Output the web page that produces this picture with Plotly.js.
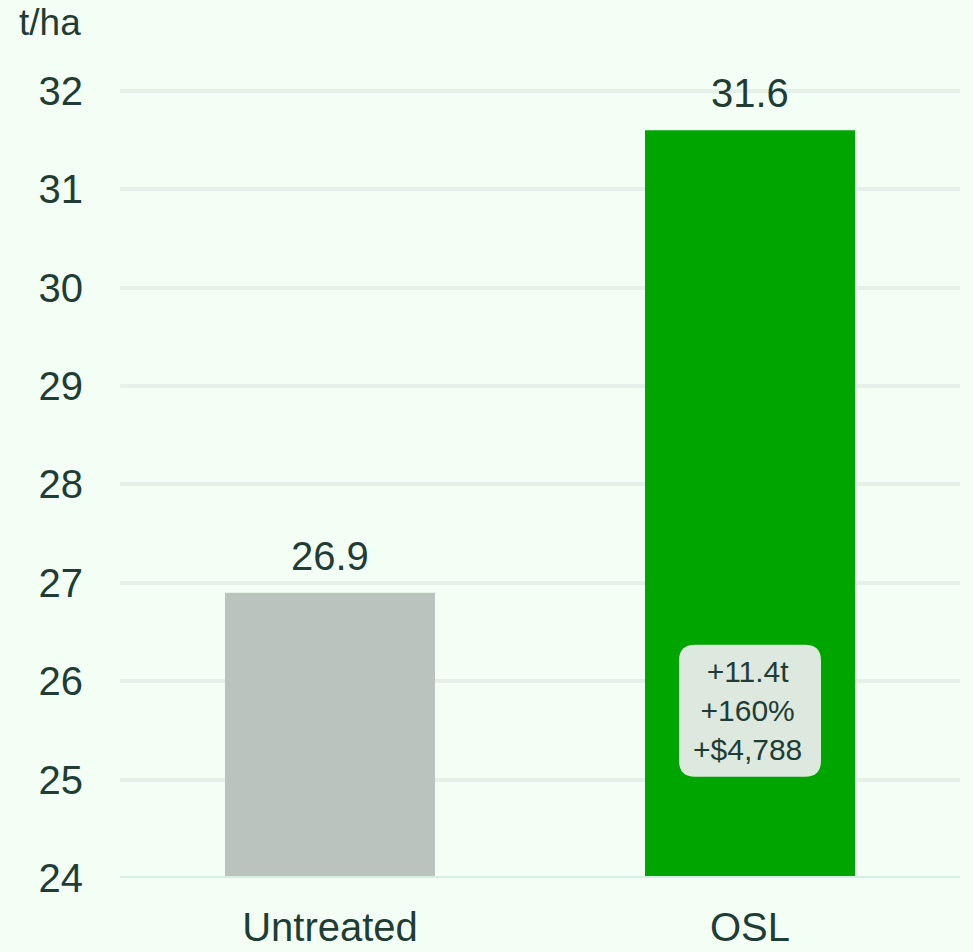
<!DOCTYPE html>
<html>
<head>
<meta charset="utf-8">
<script src="https://cdn.plot.ly/plotly-3.0.1.min.js"></script>
<style>html,body{margin:0;padding:0;background:#f3fff5;}#chart{width:973px;height:952px;}</style>
</head>
<body>
<div id="chart"></div>
<script>
const categories = ["Untreated", "OSL"];
const values = [26.9, 31.6];
const barColors = ["#bbc3be", "#00a500"];
const valueLabels = ["26.9", "31.6"];
const yTicks = [24, 25, 26, 27, 28, 29, 30, 31, 32];
const unitLabel = "t/ha";
const gainCategory = "OSL";
const gainLines = ["+11.4t", "+160%", "+$4,788"];
const gainCenterY = 25.7;

const textColor = "#1f3d34";
const font = "Liberation Sans, Arial, sans-serif";

const trace = {
  type: "bar",
  x: categories,
  y: values,
  base: 0,
  marker: {color: barColors, line: {width: 0}},
  hoverinfo: "none"
};

const topMargin = 81, plotH = 952 - topMargin - 74;

const annotations = values.map((v, i) => ({
  x: categories[i], y: v, xref: "x", yref: "y",
  text: valueLabels[i], showarrow: false,
  yanchor: "middle", yshift: 37,
  font: {family: font, size: 40, color: textColor}
}));
annotations.push({
  x: gainCategory, y: gainCenterY, xref: "x", yref: "y",
  text: gainLines.join("<br>"), showarrow: false,
  yanchor: "middle", xshift: -3,
  font: {family: font, size: 30, color: textColor}
});
annotations.push({
  x: (17 - 120) / 840, y: 1 + (topMargin - 22) / plotH, xref: "paper", yref: "paper",
  text: unitLabel, showarrow: false, xanchor: "left", yanchor: "middle",
  font: {family: font, size: 37, color: textColor}
});

const w = 142, h = 132, r = 16;
const hw = w / 2, hh = h / 2;
const rr = `M ${-hw + r} ${-hh} L ${hw - r} ${-hh} Q ${hw} ${-hh} ${hw} ${-hh + r} L ${hw} ${hh - r} Q ${hw} ${hh} ${hw - r} ${hh} L ${-hw + r} ${hh} Q ${-hw} ${hh} ${-hw} ${hh - r} L ${-hw} ${-hh + r} Q ${-hw} ${-hh} ${-hw + r} ${-hh} Z`;

const layout = {
  width: 973, height: 952,
  margin: {l: 120, r: 13, t: topMargin, b: 74},
  paper_bgcolor: "#f3fff5",
  plot_bgcolor: "#f3fff5",
  bargap: 0.5,
  showlegend: false,
  xaxis: {
    type: "category",
    showgrid: false, zeroline: false, showline: false,
    ticks: "", ticklabelstandoff: 22,
    tickfont: {family: font, size: 40, color: textColor}
  },
  yaxis: {
    range: [24, 32.1],
    tickvals: yTicks,
    showgrid: true, gridcolor: "#e5f1e8", gridwidth: 4,
    zeroline: false, showline: false,
    ticks: "", ticklabelstandoff: 36,
    tickfont: {family: font, size: 40, color: textColor}
  },
  shapes: [
    {type: "line", xref: "paper", yref: "y", x0: 0, x1: 1, y0: 24, y1: 24,
     line: {color: "#d6efe5", width: 4}, layer: "above"},
    {type: "path", xref: "x", yref: "y", xsizemode: "pixel", ysizemode: "pixel",
     xanchor: gainCategory, yanchor: gainCenterY, path: rr,
     fillcolor: "#dde9df", line: {width: 0}, layer: "above"}
  ],
  annotations: annotations
};

Plotly.newPlot("chart", [trace], layout, {staticPlot: true});
</script>
</body>
</html>
